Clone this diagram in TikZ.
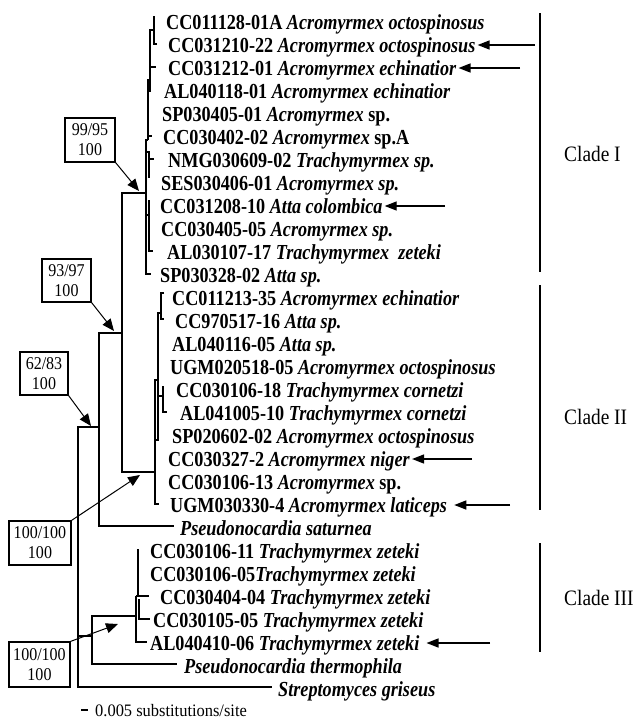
\documentclass[tikz,border=0pt]{standalone}
\usepackage{fontspec}
\setmainfont{Liberation Serif}
\newfontfamily\labf{Liberation Serif}[FakeStretch=0.85]
\newfontfamily\cladef{Liberation Serif}[FakeStretch=0.88]
\newfontfamily\boxf{Liberation Serif}[FakeStretch=0.89]
\newfontfamily\scalef{Liberation Serif}[FakeStretch=0.94]
\usetikzlibrary{arrows.meta}
\newcommand\spn[1]{\textit{#1}}
\begin{document}
\begin{tikzpicture}[x=1pt,y=-1pt,
  lab/.style={anchor=base west, inner sep=0pt, font=\labf\fontsize{21.4}{24}\selectfont\bfseries},
  tree/.style={line width=1.4pt},
  boxst/.style={draw, line width=1.3pt, align=center, inner sep=0pt, font=\boxf\fontsize{18}{20}\selectfont},
  barrow/.style={line width=1pt, -{Triangle[length=12pt,width=10pt]}},
  larrow/.style={line width=1.4pt, -{Triangle[length=12pt,width=9pt]}, shorten >=2pt},
  cladebar/.style={line width=2.8pt},
  cladelab/.style={anchor=west, inner sep=0pt, font=\cladef\fontsize{22}{24}\selectfont}]
\fill[white] (0,0) rectangle (637,720);
\useasboundingbox (0,0) rectangle (637,720);

% ---- leaf labels ----
\node[lab] (r0) at (166,29) {CC011128-01A \spn{Acromyrmex octospinosus}};
\node[lab] (r1) at (168,52) {CC031210-22 \spn{Acromyrmex octospinosus}};
\node[lab] (r2) at (168,75) {CC031212-01 \spn{Acromyrmex echinatior}};
\node[lab] (r3) at (164,98) {AL040118-01 \spn{Acromyrmex echinatior}};
\node[lab] (r4) at (162,121) {SP030405-01 \spn{Acromyrmex} sp.};
\node[lab] (r5) at (163,144) {CC030402-02 \spn{Acromyrmex} sp.A};
\node[lab] (r6) at (168,167) {NMG030609-02 \spn{Trachymyrmex sp.}};
\node[lab] (r7) at (161,190) {SES030406-01 \spn{Acromyrmex sp.}};
\node[lab] (r8) at (160,213) {CC031208-10 \spn{Atta colombica}};
\node[lab] (r9) at (161,236) {CC030405-05 \spn{Acromyrmex sp.}};
\node[lab] (r10) at (167,259) {AL030107-17 \spn{Trachymyrmex\ \ zeteki}};
\node[lab] (r11) at (160,282) {SP030328-02 \spn{Atta sp.}};
\node[lab] (r12) at (172,305) {CC011213-35 \spn{Acromyrmex echinatior}};
\node[lab] (r13) at (175,328) {CC970517-16 \spn{Atta sp.}};
\node[lab] (r14) at (172,351) {AL040116-05 \spn{Atta sp.}};
\node[lab] (r15) at (170,374) {UGM020518-05 \spn{Acromyrmex octospinosus}};
\node[lab] (r16) at (176,397) {CC030106-18 \spn{Trachymyrmex cornetzi}};
\node[lab] (r17) at (180,420) {AL041005-10 \spn{Trachymyrmex cornetzi}};
\node[lab] (r18) at (172,443) {SP020602-02 \spn{Acromyrmex octospinosus}};
\node[lab] (r19) at (168,466) {CC030327-2 \spn{Acromyrmex niger}};
\node[lab] (r20) at (168,489) {CC030106-13 \spn{Acromyrmex} sp.};
\node[lab] (r21) at (170,512) {UGM030330-4 \spn{Acromyrmex laticeps}};
\node[lab] (r22) at (180,535) {\spn{Pseudonocardia saturnea}};
\node[lab] (r23) at (150,558) {CC030106-11 \spn{Trachymyrmex zeteki}};
\node[lab] (r24) at (150,581) {CC030106-05\spn{Trachymyrmex zeteki}};
\node[lab] (r25) at (160,604) {CC030404-04 \spn{Trachymyrmex zeteki}};
\node[lab] (r26) at (153,627) {CC030105-05 \spn{Trachymyrmex zeteki}};
\node[lab] (r27) at (150,650) {AL040410-06 \spn{Trachymyrmex zeteki}};
\node[lab] (r28) at (184,673) {\spn{Pseudonocardia thermophila}};
\node[lab] (r29) at (278,696) {\spn{Streptomyces griseus}};

% ---- internal nodes ----
\coordinate (nRoot) at (78,636);
\coordinate (nIn) at (99,427);
\coordinate (nIII) at (92,636);
\coordinate (nI2) at (122,333);
\coordinate (cI) at (146,193);
\coordinate (cII) at (155,472);
\coordinate (c3) at (136,616);
\coordinate (t29) at (272,687);
\coordinate (t28) at (177,664);
\coordinate (t22) at (174,526);

\draw[tree] (nIn) -| (nRoot) |- (t29);
\draw[tree] (nRoot) -- (nIII);
\draw[tree] (c3) -| (nIII) |- (t28);
\draw[tree] (nI2) -| (nIn) |- (t22);
\draw[tree] (cI) -| (nI2) |- (cII);

% clade III
\draw[tree] (136,596) -- (136,642) -- (147,642);
\draw[tree] (136,596) -- (149,596);
\draw[tree] (138,549) -- (138,596);
\draw[tree] (139,599) -- (139,619) -- (150,619);

% clade I
\draw[tree] (157,44) -- (154,44) -- (154,16);
\draw[tree] (154,30) -- (150,30) -- (150,92);
\draw[tree] (150,67) -- (156,67);
\draw[tree] (150,80) -- (148,80) -- (148,140);
\draw[tree] (148,136) -- (152,136);
\draw[tree] (148,140) -- (146,140) -- (146,274) -- (151,274);
\draw[tree] (146,152) -- (149,152) -- (149,178);
\draw[tree] (149,159) -- (154,159);
\draw[tree] (146,215) -- (149,215);
\draw[tree] (149,200) -- (149,251) -- (153,251);
\draw[tree, line width=2.5pt] (146,227) -- (146,250);

% clade II
\draw[tree] (158,380) -- (155,380) -- (155,504) -- (159,504);
\draw[tree, line width=2.6pt] (155,420) -- (155,463);
\draw[tree] (155,440) -- (158,440) -- (158,313) -- (161,313);
\draw[tree] (164,293) -- (161,293) -- (161,319) -- (164,319);
\draw[tree] (158,396) -- (163,396);
\draw[tree] (163,386) -- (163,412) -- (167,412);

% ---- support boxes ----
\node[boxst, minimum width=50pt, minimum height=44pt] (b1) at (90,140) {99/95\\100};
\node[boxst, minimum width=49pt, minimum height=43pt] (b2) at (66.5,280.5) {93/97\\100};
\node[boxst, minimum width=48pt, minimum height=43pt] (b3) at (44,373.5) {62/83\\100};
\node[boxst, minimum width=62pt, minimum height=44pt] (b4) at (40,543) {100/100\\100};
\node[boxst, minimum width=61pt, minimum height=45pt] (b5) at (39.5,664.5) {100/100\\100};

\coordinate (a1) at (139,191);
\coordinate (a2) at (114,331);
\coordinate (a3) at (91,426);
\coordinate (a4) at (140,475);
\coordinate (a5) at (118,624);
\draw[barrow] (b1.south east) -- (a1);
\draw[barrow] (b2.south east) -- (a2);
\draw[barrow] (b3.south east) -- (a3);
\draw[barrow] (b4.north east) -- (a4);
\draw[barrow] (b5.north east) -- (a5);

% ---- label arrows ----
\coordinate (e1) at (535,45);
\coordinate (e2) at (520,68);
\coordinate (e8) at (445,206);
\coordinate (e19) at (472,459);
\coordinate (e21) at (510,505);
\coordinate (e27) at (490,643);
\draw[larrow] (e1) -- (e1 -| r1.east);
\draw[larrow] (e2) -- (e2 -| r2.east);
\draw[larrow] (e8) -- (e8 -| r8.east);
\draw[larrow] (e19) -- (e19 -| r19.east);
\draw[larrow, shorten >=7pt] (e21) -- (e21 -| r21.east);
\draw[larrow, shorten >=7pt] (e27) -- (e27 -| r27.east);

% ---- clade bars ----
\coordinate (k1a) at (540,13);  \coordinate (k1b) at (540,272);
\coordinate (k2a) at (540,285); \coordinate (k2b) at (540,510);
\coordinate (k3a) at (540,543); \coordinate (k3b) at (540,652);
\draw[cladebar] (k1a) -- (k1b);
\draw[cladebar] (k2a) -- (k2b);
\draw[cladebar] (k3a) -- (k3b);
\node[cladelab] (L1) at (564,154) {Clade I};
\node[cladelab] (L2) at (564,417) {Clade II};
\node[cladelab] (L3) at (564,598) {Clade III};

% ---- scale ----
\coordinate (s1) at (81,710);
\coordinate (s2) at (88,710);
\draw[line width=2.5pt] (s1) -- (s2);
\node[anchor=west, inner sep=0pt, font=\scalef\fontsize{17.5}{19}\selectfont] (scale) at (95,711) {0.005 substitutions/site};
\end{tikzpicture}
\end{document}
